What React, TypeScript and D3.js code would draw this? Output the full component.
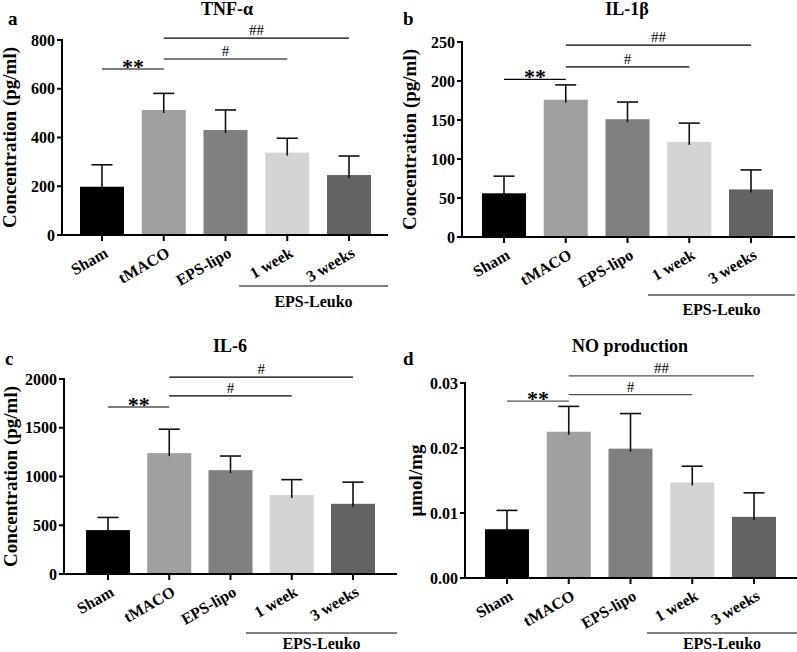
import React from "react";
import * as d3 from "d3";

const categories = ["Sham", "tMACO", "EPS-lipo", "1 week", "3 weeks"];
const barColors = ["#000000", "#a0a0a0", "#808080", "#d4d4d4", "#636363"];

const tnfMean = [198, 513, 431, 338, 246];
const tnfSD = [90, 68, 82, 59, 78];
const tnfTicks = [0, 200, 400, 600, 800];

const il1bMean = [56, 176, 151, 122, 61];
const il1bSD = [22, 19, 22, 24, 25];
const il1bTicks = [0, 50, 100, 150, 200, 250];

const il6Mean = [450, 1240, 1065, 810, 720];
const il6SD = [130, 245, 145, 158, 222];
const il6Ticks = [0, 500, 1000, 1500, 2000];

const noMean = [0.0075, 0.0225, 0.0199, 0.0147, 0.0094];
const noSD = [0.0029, 0.0039, 0.0054, 0.0025, 0.0037];
const noTicks = [0, 0.01, 0.02, 0.03];

type Sig = { from: number; to: number; value: number; label: string };

const tnfSig: Sig[] = [
  { from: 0, to: 1, value: 681, label: "**" },
  { from: 1, to: 3, value: 722, label: "#" },
  { from: 1, to: 4, value: 808, label: "##" },
];
const il1bSig: Sig[] = [
  { from: 0, to: 1, value: 202, label: "**" },
  { from: 1, to: 3, value: 218, label: "#" },
  { from: 1, to: 4, value: 246, label: "##" },
];
const il6Sig: Sig[] = [
  { from: 0, to: 1, value: 1713, label: "**" },
  { from: 1, to: 3, value: 1826, label: "#" },
  { from: 1, to: 4, value: 2020, label: "#" },
];
const noSig: Sig[] = [
  { from: 0, to: 1, value: 0.0272, label: "**" },
  { from: 1, to: 3, value: 0.0282, label: "#" },
  { from: 1, to: 4, value: 0.0311, label: "##" },
];

const FONT = "'Liberation Serif', 'Times New Roman', Times, serif";

type PanelProps = {
  letter: string;
  title: string;
  yLabel: string;
  means: number[];
  sds: number[];
  ticks: number[];
  tickFormat: (v: number) => string;
  sigs: Sig[];
  sigColor: string;
  ox: number;
  xFirst: number;
  xLast: number;
  xEnd: number;
  top: number;
  bottom: number;
  letterPos: [number, number];
  titlePos: [number, number];
  yLabelX: number;
  groupLineY: number;
  groupLineX0: number;
  groupTextY: number;
};

function Panel(p: PanelProps) {
  const x = d3.scalePoint<string>().domain(categories).range([p.xFirst, p.xLast]);
  const maxV = p.ticks[p.ticks.length - 1];
  const y = d3.scaleLinear().domain([0, maxV]).range([p.bottom, p.top]);
  const barW = 44;
  const capW = 21;
  const midY = (p.top + p.bottom) / 2;
  return (
    <g fontFamily={FONT} fontWeight="bold">
      <text x={p.letterPos[0]} y={p.letterPos[1]} fontSize={19}>{p.letter}</text>
      <text x={p.titlePos[0]} y={p.titlePos[1]} fontSize={18} textAnchor="middle">{p.title}</text>
      <text
        transform={`translate(${p.yLabelX},${midY}) rotate(-90)`}
        fontSize={19}
        textAnchor="middle"
      >
        {p.yLabel}
      </text>
      {categories.map((c, i) => (
        <rect
          key={c}
          x={(x(c) as number) - barW / 2}
          y={y(p.means[i])}
          width={barW}
          height={p.bottom - y(p.means[i])}
          fill={barColors[i]}
        />
      ))}
      {categories.map((c, i) => {
        const cx = x(c) as number;
        const yt = y(p.means[i] + p.sds[i]);
        return (
          <g key={"e" + c} stroke="#111" strokeWidth={1.6}>
            <line x1={cx} x2={cx} y1={y(p.means[i]) + 3} y2={yt} />
            <line x1={cx - capW / 2} x2={cx + capW / 2} y1={yt} y2={yt} />
          </g>
        );
      })}
      <line x1={p.ox} x2={p.ox} y1={p.top - 1} y2={p.bottom + 1} stroke="#000" strokeWidth={2} />
      <line x1={p.ox} x2={p.xEnd} y1={p.bottom} y2={p.bottom} stroke="#000" strokeWidth={2} />
      {p.ticks.map((t) => (
        <g key={"t" + t}>
          <line x1={p.ox - 5} x2={p.ox} y1={y(t)} y2={y(t)} stroke="#000" strokeWidth={2} />
          <text x={p.ox - 7} y={y(t)} dy="0.35em" fontSize={16} textAnchor="end">
            {p.tickFormat(t)}
          </text>
        </g>
      ))}
      {categories.map((c) => {
        const cx = x(c) as number;
        return (
          <g key={"x" + c}>
            <line x1={cx} x2={cx} y1={p.bottom} y2={p.bottom + 6} stroke="#000" strokeWidth={2} />
            <text
              transform={`translate(${cx + 7},${p.bottom + 21}) rotate(-30)`}
              fontSize={16}
              textAnchor="end"
            >
              {c}
            </text>
          </g>
        );
      })}
      <line x1={p.groupLineX0} x2={p.xEnd} y1={p.groupLineY} y2={p.groupLineY} stroke="#000" strokeWidth={1} />
      <text x={(p.groupLineX0 + p.xEnd) / 2} y={p.groupTextY} fontSize={16} textAnchor="middle">
        EPS-Leuko
      </text>
      {p.sigs.map((s, k) => {
        const x1 = x(categories[s.from]) as number;
        const x2 = x(categories[s.to]) as number;
        const yy = y(s.value);
        const isStar = s.label.includes("*");
        return (
          <g key={"s" + k}>
            <line x1={x1} x2={x2} y1={yy} y2={yy} stroke={p.sigColor} strokeWidth={1.2} />
            <text
              x={(x1 + x2) / 2}
              y={isStar ? yy + 5 : yy - 3}
              fontSize={isStar ? 22 : 15}
              fontWeight={isStar ? "bold" : "normal"}
              textAnchor="middle"
              fill="#000"
            >
              {s.label}
            </text>
          </g>
        );
      })}
    </g>
  );
}

export default function App() {
  const intFmt = (v: number) => d3.format("d")(v);
  const decFmt = (v: number) => d3.format(".2f")(v);
  return (
    <svg width={797} height={652} style={{ position: "absolute", left: 0, top: 0, background: "#fff" }}>
      <rect width={797} height={652} fill="#fff" />
      <Panel
        letter="a" title="TNF-α" yLabel="Concentration (pg/ml)"
        means={tnfMean} sds={tnfSD} ticks={tnfTicks} tickFormat={intFmt} sigs={tnfSig} sigColor="#000"
        ox={62} xFirst={102} xLast={349} xEnd={388} top={40} bottom={235}
        letterPos={[8, 25]} titlePos={[227, 15]} yLabelX={16} groupLineY={286} groupLineX0={239} groupTextY={307}
      />
      <Panel
        letter="b" title="IL-1β" yLabel="Concentration (pg/ml)"
        means={il1bMean} sds={il1bSD} ticks={il1bTicks} tickFormat={intFmt} sigs={il1bSig} sigColor="#000"
        ox={462} xFirst={504} xLast={751} xEnd={795} top={42} bottom={237}
        letterPos={[403, 25]} titlePos={[627, 15]} yLabelX={416} groupLineY={295} groupLineX0={648} groupTextY={315}
      />
      <Panel
        letter="c" title="IL-6" yLabel="Concentration (pg/ml)"
        means={il6Mean} sds={il6SD} ticks={il6Ticks} tickFormat={intFmt} sigs={il6Sig} sigColor="#000"
        ox={64} xFirst={108} xLast={353} xEnd={397} top={379} bottom={574}
        letterPos={[5, 365]} titlePos={[230, 352]} yLabelX={17} groupLineY={633} groupLineX0={246} groupTextY={649}
      />
      <Panel
        letter="d" title="NO production" yLabel="μmol/mg"
        means={noMean} sds={noSD} ticks={noTicks} tickFormat={decFmt} sigs={noSig} sigColor="#555"
        ox={465} xFirst={507} xLast={754} xEnd={797} top={383} bottom={578}
        letterPos={[403, 365]} titlePos={[630, 352]} yLabelX={422} groupLineY={633} groupLineX0={647} groupTextY={649}
      />
    </svg>
  );
}
